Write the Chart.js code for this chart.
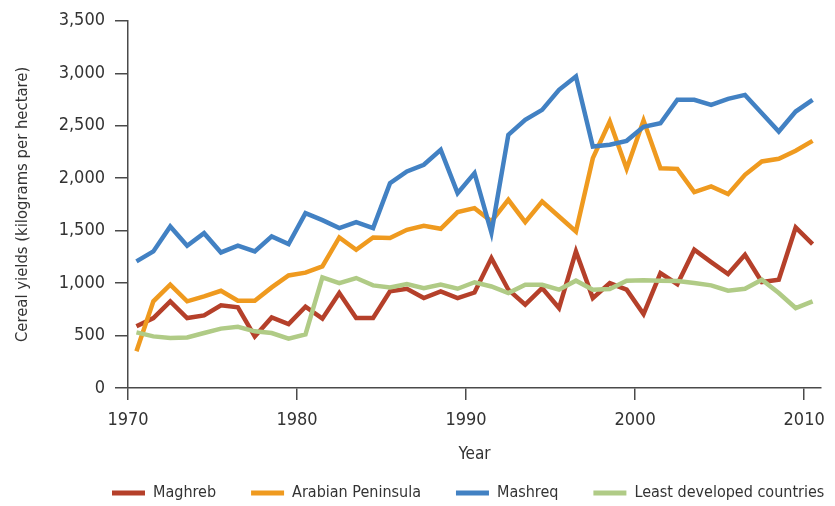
<!DOCTYPE html>
<html lang="en">
<head>
  <meta charset="UTF-8">
  <title>Cereal yields</title>
  <script src="https://cdn.jsdelivr.net/npm/chart.js"></script>
  <style>
    body {
      margin: 0;
      padding: 0;
      background-color: #fff;
    }
  </style>
</head>
<body>
  <canvas id="yieldChart" width="835" height="506"></canvas>

  <script>
    // yearly values
    const years = [1970, 1971, 1972, 1973, 1974, 1975, 1976, 1977, 1978, 1979,
      1980, 1981, 1982, 1983, 1984, 1985, 1986, 1987, 1988, 1989,
      1990, 1991, 1992, 1993, 1994, 1995, 1996, 1997, 1998, 1999,
      2000, 2001, 2002, 2003, 2004, 2005, 2006, 2007, 2008, 2009, 2010];
    const maghreb = [588, 667, 826, 667, 692, 788, 769, 492, 673, 610,
      775, 661, 905, 667, 667, 921, 946, 857, 921, 857,
      910, 1238, 937, 794, 952, 762, 1302, 857, 1000, 937,
      705, 1095, 990, 1318, 1200, 1086, 1270, 1010, 1032, 1530, 1371];
    const arabianPeninsula = [350, 826, 985, 826, 873, 927, 832, 832, 959, 1073,
      1100, 1159, 1435, 1318, 1435, 1429, 1508, 1546, 1518, 1676,
      1714, 1588, 1794, 1581, 1778, 1635, 1492, 2191, 2540, 2089,
      2550, 2095, 2089, 1867, 1921, 1848, 2032, 2159, 2185, 2261, 2356];
    const mashreq = [1207, 1302, 1540, 1356, 1476, 1292, 1356, 1302, 1445, 1372,
      1667, 1600, 1524, 1581, 1524, 1952, 2064, 2128, 2270, 1857,
      2048, 1480, 2413, 2556, 2651, 2842, 2969, 2302, 2318, 2356,
      2490, 2524, 2747, 2747, 2699, 2756, 2794, 2619, 2445, 2635, 2747];
    const leastDeveloped = [530, 492, 476, 482, 524, 566, 584, 540, 524, 470,
      511, 1054, 1000, 1048, 978, 959, 990, 952, 986, 946,
      1008, 968, 905, 984, 984, 937, 1023, 937, 943, 1023,
      1027, 1022, 1019, 1000, 978, 927, 946, 1032, 905, 762, 826];

    const seriesNames = ['Maghreb', 'Arabian Peninsula', 'Mashreq', 'Least developed countries'];
    const seriesColors = ['#b5402a', '#ef9a1f', '#4281c3', '#b0cb86'];
    const yTicks = [0, 500, 1000, 1500, 2000, 2500, 3000, 3500];
    const xTicks = [1970, 1980, 1990, 2000, 2010];

    const textColor = '#333';
    const axisColor = '#4a4a4a';
    Chart.defaults.font.family = "'Liberation Sans Narrow', 'DejaVu Sans Condensed', sans-serif";
    Chart.defaults.font.size = 18;
    Chart.defaults.color = textColor;

    // each value sits in the middle of its year
    function toPoints(vals) {
      return years.map((yr, i) => ({ x: yr + 0.5, y: vals[i] }));
    }

    const allSeries = [maghreb, arabianPeninsula, mashreq, leastDeveloped];
    const datasets = allSeries.map((vals, i) => ({
      label: seriesNames[i],
      data: toPoints(vals),
      borderColor: seriesColors[i],
      backgroundColor: seriesColors[i],
      borderWidth: 4.5,
      borderJoinStyle: 'miter',
      pointRadius: 0,
      tension: 0,
      order: allSeries.length - i
    }));

    // nudge the legend to where the original has it
    // (right edge pushed out so the last item stays on the same row)
    const legendPlace = {
      id: 'legendPlace',
      afterLayout(chart) {
        const lg = chart.legend;
        lg.left = 77;
        lg.right = 920;
        lg.top -= 15;
        lg.bottom -= 15;
      }
    };

    const ctx = document.getElementById('yieldChart').getContext('2d');
    new Chart(ctx, {
      type: 'line',
      data: { datasets: datasets },
      plugins: [legendPlace],
      options: {
        responsive: false,
        animation: false,
        devicePixelRatio: 1,
        layout: { padding: { top: 8, right: 11, left: 0, bottom: -20 } },
        plugins: {
          tooltip: { enabled: false },
          legend: {
            position: 'bottom',
            align: 'start',
            labels: {
              boxWidth: 33,
              boxHeight: 5,
              padding: 35,
              font: { size: 16 },
              sort: (a, b) => a.datasetIndex - b.datasetIndex,
              generateLabels: c => Chart.defaults.plugins.legend.labels.generateLabels(c)
                .map(l => ({ ...l, lineWidth: 0 }))
            }
          }
        },
        scales: {
          x: {
            type: 'linear',
            min: 1970,
            max: 2011,
            afterBuildTicks: s => { s.ticks = xTicks.map(v => ({ value: v })); },
            afterFit: s => { s.height = 77; },
            ticks: {
              padding: 10,
              color: textColor,
              callback: v => String(v)
            },
            grid: { drawOnChartArea: false, tickLength: 12, color: axisColor, lineWidth: 1.5 },
            border: { color: axisColor, width: 1.5 },
            title: {
              display: true,
              text: 'Year',
              font: { size: 17 },
              padding: { top: 0, bottom: 0 },
              color: textColor
            }
          },
          y: {
            min: 0,
            max: 3500,
            afterBuildTicks: s => { s.ticks = yTicks.map(v => ({ value: v })); },
            afterFit: s => { s.width = 128; },
            ticks: {
              padding: 10,
              color: textColor,
              callback: v => v.toLocaleString('en-US')
            },
            grid: { drawOnChartArea: false, tickLength: 13, color: axisColor, lineWidth: 1.5 },
            border: { color: axisColor, width: 1.5 },
            title: {
              display: true,
              text: 'Cereal yields (kilograms per hectare)',
              font: { size: 16.5 },
              padding: { top: 13, bottom: 0 },
              color: textColor
            }
          }
        }
      }
    });
  </script>
</body>
</html>
